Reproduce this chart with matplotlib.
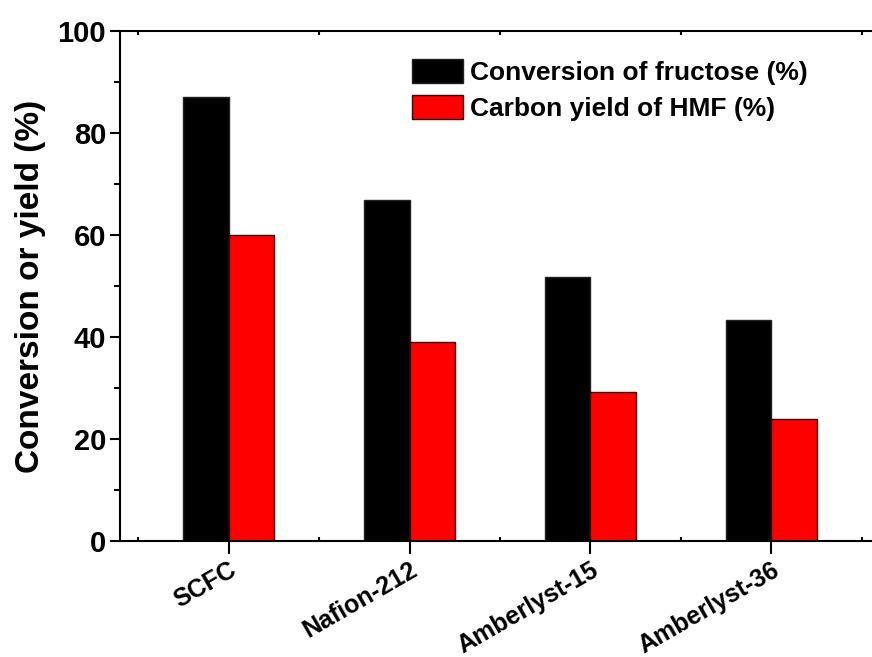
import numpy as np
import matplotlib.pyplot as plt
import matplotlib.transforms as mtrans
from matplotlib.ticker import MultipleLocator

plt.rcParams['font.family'] = ['Liberation Sans', 'DejaVu Sans']
plt.rcParams['font.weight'] = 'bold'

catalysts = ['SCFC', 'Nafion-212', 'Amberlyst-15', 'Amberlyst-36']
conversion = [87.0, 66.9, 51.7, 43.3]
hmf_yield = [60.0, 39.0, 29.2, 24.0]
labels = ['Conversion of fructose (%)', 'Carbon yield of HMF (%)']

fig = plt.figure(figsize=(8.72, 6.57), dpi=100)
ax = fig.add_axes([0.1376, 0.1766, 0.8716, 0.7763])

x = np.arange(len(catalysts))
w = 0.25
ax.bar(x - w/2, conversion, w, color='black', edgecolor='#222222', linewidth=1, label=labels[0])
ax.bar(x + w/2, hmf_yield, w, color='#ff0000', edgecolor='#3a0000', linewidth=1, label=labels[1])

ax.set_xlim(-0.6, 3.6)
ax.set_ylim(0, 100)
ax.set_xticks(x)
ax.set_xticklabels(catalysts, rotation=30, ha='right', rotation_mode='anchor', fontsize=18, fontweight='bold')
shift = mtrans.ScaledTranslation(10/100, 2/100, fig.dpi_scale_trans)
for lab in ax.get_xticklabels():
    lab.set_transform(lab.get_transform() + shift)
ax.xaxis.set_minor_locator(MultipleLocator(1, offset=0.5))
ax.yaxis.set_major_locator(MultipleLocator(20))
ax.yaxis.set_minor_locator(MultipleLocator(10))
ax.tick_params(axis='y', which='major', direction='out', length=7, width=1.5, labelsize=21, pad=3)
ax.tick_params(axis='y', which='minor', direction='out', length=4, width=1.5)
ax.tick_params(axis='x', which='major', direction='out', length=9, width=1.5, pad=3)
ax.tick_params(axis='x', which='minor', direction='in', length=3, width=1.5, top=True)
for lab in ax.get_yticklabels():
    lab.set_fontweight('bold')
for s in ax.spines.values():
    s.set_linewidth(1.5)

ax.set_ylabel('Conversion or yield (%)', fontsize=24, fontweight='bold', labelpad=8)

ax.legend(loc='upper left', bbox_to_anchor=(0.384, 0.945), frameon=False,
          prop={'size': 19, 'weight': 'bold'}, handlelength=1.93, handleheight=1.0,
          handletextpad=0.27, labelspacing=0.4, borderaxespad=0, borderpad=0)

fig.savefig('out.png', dpi=100)
